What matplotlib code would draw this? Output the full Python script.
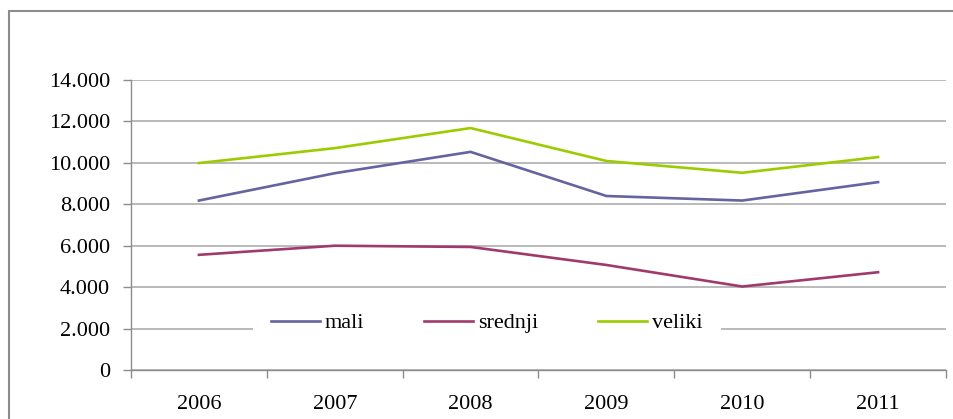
import matplotlib.pyplot as plt
from matplotlib.patches import Rectangle

# Data
years = ['2006', '2007', '2008', '2009', '2010', '2011']
mali = [8180, 9500, 10530, 8400, 8180, 9070]
srednji = [5560, 6000, 5940, 5070, 4030, 4720]
veliki = [9990, 10710, 11680, 10090, 9520, 10280]
y_ticks = [0, 2000, 4000, 6000, 8000, 10000, 12000, 14000]
y_labels = ['0', '2.000', '4.000', '6.000', '8.000', '10.000', '12.000', '14.000']

plt.rcParams['font.family'] = ['Liberation Serif', 'DejaVu Serif']
FS = 16

fig = plt.figure(figsize=(9.54, 4.19), dpi=100)
ax = fig.add_axes([131/954, 1-370/419, (946-131)/954, 290/419])

x = range(len(years))
ax.plot(x, mali, color='#6464a0', lw=1.9, label='mali')
ax.plot(x, srednji, color='#a03a6c', lw=1.9, label='srednji')
ax.plot(x, veliki, color='#9ccc00', lw=1.9, label='veliki')

ax.set_xlim(-0.5, len(years) - 0.5)
ax.set_ylim(0, 14000)
ax.set_yticks(y_ticks)
ax.set_yticklabels(y_labels, fontsize=FS)
ax.set_xticks(list(x))
ax.set_xticklabels(years, fontsize=FS)
ax.set_xticks([i - 0.5 for i in range(len(years) + 1)], minor=True)
ax.tick_params(axis='x', which='major', length=0, pad=18)
ax.tick_params(axis='x', which='minor', length=6, color='#8c8c8c', width=1)
ax.tick_params(axis='y', length=6, color='#8c8c8c', width=1, pad=9)

ax.grid(axis='y', color='#b4b4b4', lw=1.3)
ax.set_axisbelow(True)
for s in ['top', 'right']:
    ax.spines[s].set_visible(False)
for s in ['left', 'bottom']:
    ax.spines[s].set_color('#8c8c8c')
    ax.spines[s].set_linewidth(1)

leg = ax.legend(loc='center', bbox_to_anchor=((487-131)/815, (370-323)/290),
                ncol=3, frameon=True, fontsize=FS, handlelength=2.2,
                handletextpad=0.22, columnspacing=2.7, borderpad=0.8)
leg.get_frame().set_facecolor('white')
leg.get_frame().set_edgecolor('none')
leg.get_frame().set_alpha(1)

# outer chart border (cut at right and bottom)
fig.add_artist(Rectangle((9/954, -0.2), 1.5, 1.2 - 11/419, transform=fig.transFigure,
                         fill=False, edgecolor='#8c8c8c', lw=1.5, clip_on=False))

fig.savefig('out.png', dpi=100)
